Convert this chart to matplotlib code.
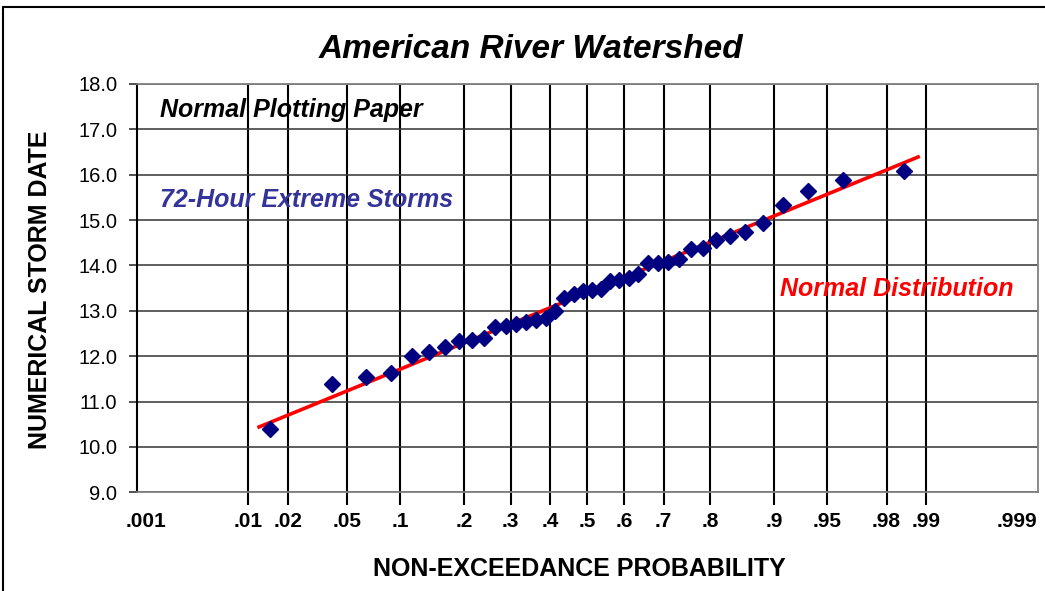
import matplotlib
matplotlib.use("Agg")
import numpy as np
import matplotlib.pyplot as plt
from matplotlib.patches import Rectangle
from matplotlib.transforms import ScaledTranslation
from statistics import NormalDist

# probability axis ticks
prob_ticks = [0.001, 0.01, 0.02, 0.05, 0.1, 0.2, 0.3, 0.4, 0.5,
              0.6, 0.7, 0.8, 0.9, 0.95, 0.98, 0.99, 0.999]
prob_labels = ['.001', '.01', '.02', '.05', '.1', '.2', '.3', '.4', '.5',
               '.6', '.7', '.8', '.9', '.95', '.98', '.99', '.999']
y_ticks = [9.0, 10.0, 11.0, 12.0, 13.0, 14.0, 15.0, 16.0, 17.0, 18.0]

# plotted storms (non-exceedance probability, numerical storm date)
non_exceed = [0.0149, 0.0398, 0.0647, 0.0896, 0.1144, 0.1393, 0.1642, 0.1891,
              0.2139, 0.2388, 0.2637, 0.2886, 0.3134, 0.3383, 0.3632, 0.3881,
              0.4129, 0.4378, 0.4627, 0.4876, 0.5124, 0.5373, 0.5622, 0.5871,
              0.6119, 0.6368, 0.6617, 0.6866, 0.7114, 0.7363, 0.7612, 0.7861,
              0.8109, 0.8358, 0.8607, 0.8856, 0.9104, 0.9353, 0.9602, 0.9851]
storm_date = [10.39, 11.39, 11.55, 11.64, 12.00, 12.10, 12.21, 12.34,
              12.36, 12.39, 12.65, 12.67, 12.72, 12.76, 12.80, 12.84,
              13.00, 13.28, 13.37, 13.44, 13.46, 13.47, 13.66, 13.68,
              13.72, 13.81, 14.05, 14.06, 14.08, 14.14, 14.36, 14.38,
              14.55, 14.65, 14.73, 14.94, 15.33, 15.63, 15.88, 16.07]

# fitted normal distribution (straight line on normal paper)
fit_prob = [0.0122, 0.9884]
fit_date = [10.44, 16.39]

nd = NormalDist()
_ppf = np.vectorize(lambda p: nd.inv_cdf(min(max(p, 1e-9), 1 - 1e-9)))
_cdf = np.vectorize(nd.cdf)


def fwd(p):
    return _ppf(np.asarray(p, dtype=float))


def inv(z):
    return _cdf(np.asarray(z, dtype=float))


plt.rcParams['font.family'] = ['Liberation Sans', 'DejaVu Sans']

fig = plt.figure(figsize=(10.45, 5.91), dpi=100)
ax = fig.add_axes([0.1308, 0.167, 0.8622, 0.691])
ax.set_xscale('function', functions=(fwd, inv))
ax.set_xlim(0.001, 0.999)
ax.set_ylim(9.0, 18.0)

ax.xaxis.remove_overlapping_locs = False
ax.set_xticks(prob_ticks)
ax.set_xticklabels(prob_labels, fontsize=15, fontweight='bold')
ax.set_xticks(prob_ticks[1:-1], minor=True)
ax.tick_params(axis='x', which='major', length=0, pad=14)
ax.tick_params(axis='x', which='minor', length=9, width=1.5, color='black', direction='out')
ax.set_yticks(y_ticks)
ax.set_yticklabels([f'{v:.1f}' for v in y_ticks], fontsize=14.5)
ax.tick_params(axis='y', which='major', length=6, width=1.2, color='#333333', pad=8)

ax.grid(True, which='minor', axis='x', color='black', lw=1.5)
ax.grid(True, which='major', axis='y', color='#333333', lw=1.1)
ax.set_axisbelow(True)
for side in ['top', 'right', 'bottom']:
    ax.spines[side].set_color('#808080')
    ax.spines[side].set_linewidth(1.3)
ax.spines['left'].set_color('black')
ax.spines['left'].set_linewidth(1.5)

# nudge the end labels inward like the original
lbls = ax.get_xticklabels()
lbls[0].set_transform(lbls[0].get_transform() + ScaledTranslation(0.09, 0, fig.dpi_scale_trans))
lbls[-1].set_transform(lbls[-1].get_transform() + ScaledTranslation(-0.21, 0, fig.dpi_scale_trans))

ax.plot(fit_prob, fit_date, color='#ff0000', lw=2.6, zorder=3)
ax.plot(non_exceed, storm_date, linestyle='none', marker='D', markersize=8.5,
        color='#000080', zorder=4)

ax.text(0.026, 0.936, 'Normal Plotting Paper', transform=ax.transAxes,
        fontsize=18, fontweight='bold', fontstyle='italic', color='black', va='center')
ax.text(0.026, 0.716, '72-Hour Extreme Storms', transform=ax.transAxes,
        fontsize=18, fontweight='bold', fontstyle='italic', color='#333399', va='center')
ax.text(0.714, 0.497, 'Normal Distribution', transform=ax.transAxes,
        fontsize=18, fontweight='bold', fontstyle='italic', color='#ff0000', va='center')

fig.text(0.5086, 0.917, 'American River Watershed', fontsize=24,
         fontweight='bold', fontstyle='italic', ha='center', va='center')
fig.text(0.554, 0.037, 'NON-EXCEEDANCE PROBABILITY', fontsize=18,
         fontweight='bold', ha='center', va='center')
fig.text(0.038, 0.509, 'NUMERICAL STORM DATE', fontsize=18, fontweight='bold',
         rotation=90, ha='center', va='center')

fig.patches.append(Rectangle((3 / 1045, -0.1), 1.2, 1.1 - 7 / 591, transform=fig.transFigure,
                             fill=False, ec='black', lw=1.5, figure=fig))

fig.savefig('out.png', dpi=100)
